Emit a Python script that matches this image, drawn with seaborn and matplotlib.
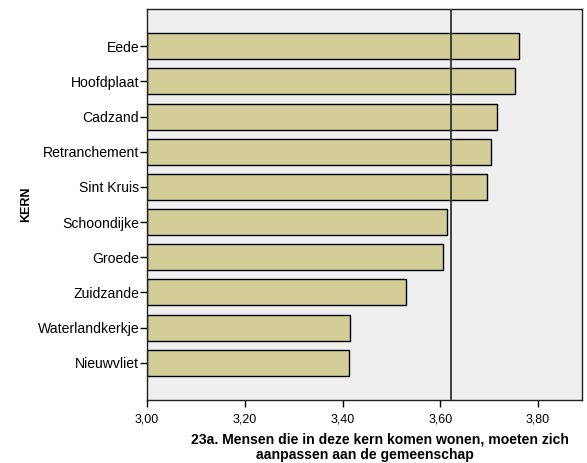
import matplotlib
matplotlib.use("Agg")
import matplotlib.pyplot as plt
import seaborn as sns
import pandas as pd

categories = ["Eede", "Hoofdplaat", "Cadzand", "Retranchement", "Sint Kruis",
              "Schoondijke", "Groede", "Zuidzande", "Waterlandkerkje", "Nieuwvliet"]
values = [3.761, 3.753, 3.716, 3.704, 3.696, 3.614, 3.606, 3.530, 3.416, 3.414]
x_ticks = [3.00, 3.20, 3.40, 3.60, 3.80]
x_tick_labels = ["3,00", "3,20", "3,40", "3,60", "3,80"]
reference_value = 3.621
x_title_lines = ["23a. Mensen die in deze kern komen wonen, moeten zich",
                 "aanpassen aan de gemeenschap"]

sns.set_style("white")
plt.rcParams['font.family'] = ['Liberation Sans', 'DejaVu Sans']
plt.rcParams['text.color'] = 'black'
plt.rcParams['axes.labelcolor'] = 'black'

df = pd.DataFrame({"KERN": categories, "value": values})

fig = plt.figure(figsize=(5.87, 4.63), dpi=100)
ax = fig.add_axes([147/587, 1-400/463, (582-147)/587, (400-9)/463])
ax.set_facecolor("#efefef")

sns.barplot(data=df, x="value", y="KERN", orient="h", ax=ax, color="#d3ce97",
            saturation=1, width=0.74, edgecolor="black", linewidth=1.0)
# bars should start at 3.0
for p in ax.patches:
    w = p.get_width()
    p.set_x(3.0)
    p.set_width(w - 3.0)

ax.axvline(reference_value, color="#333333", linewidth=1.3, zorder=5)

ax.set_xlim(3.0, 3.89)
ax.set_ylim(len(categories) - 1 + 1.06, -1.06)
ax.set_xticks(x_ticks)
ax.set_xticklabels(x_tick_labels, fontsize=9)
ax.tick_params(axis="x", bottom=True, direction="out", length=5, width=1, color="black",
               labelcolor="black", pad=5)
ax.tick_params(axis="y", left=True, direction="out", length=5, width=1, color="black",
               labelcolor="black", labelsize=10.1, pad=0.5)
ax.set_xlabel("")
fig.text(380/587, 1-440/463, x_title_lines[0], ha="center", va="center",
         fontsize=10.1, fontweight="bold")
fig.text(365/587, 1-455/463, x_title_lines[1], ha="center", va="center",
         fontsize=10.1, fontweight="bold")
ax.set_ylabel("KERN", fontsize=9, fontweight="bold", labelpad=4)
for s in ax.spines.values():
    s.set_color("#222222")
    s.set_linewidth(1.0)

fig.savefig("out.png", dpi=100)
